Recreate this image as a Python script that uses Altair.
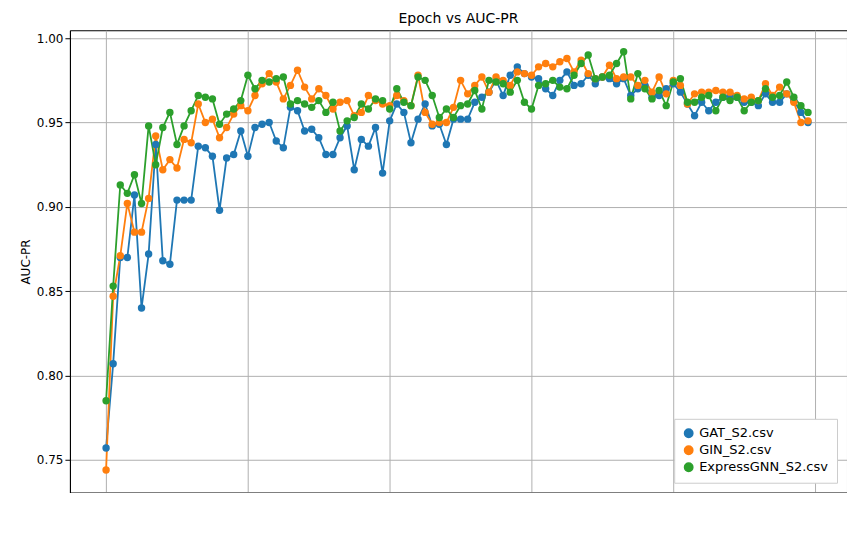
import altair as alt
import pandas as pd

epochs = list(range(100))

gat = [0.757, 0.807, 0.870, 0.870, 0.907, 0.840, 0.872, 0.937, 0.868, 0.866,
       0.904, 0.904, 0.904, 0.936, 0.935, 0.930, 0.898, 0.929, 0.931, 0.945,
       0.930, 0.947, 0.949, 0.950, 0.939, 0.935, 0.959, 0.957, 0.945, 0.946,
       0.941, 0.931, 0.931, 0.941, 0.948, 0.922, 0.940, 0.936, 0.947, 0.920,
       0.951, 0.961, 0.956, 0.938, 0.952, 0.961, 0.948, 0.949, 0.937, 0.952,
       0.952, 0.952, 0.962, 0.965, 0.968, 0.975, 0.966, 0.978, 0.983, 0.979,
       0.977, 0.976, 0.970, 0.966, 0.975, 0.980, 0.972, 0.973, 0.978, 0.973,
       0.977, 0.976, 0.973, 0.976, 0.966, 0.970, 0.972, 0.965, 0.966, 0.970,
       0.973, 0.968, 0.961, 0.954, 0.962, 0.957, 0.962, 0.965, 0.966, 0.965,
       0.962, 0.962, 0.960, 0.967, 0.962, 0.962, 0.967, 0.963, 0.956, 0.950]

gin = [0.744, 0.847, 0.871, 0.902, 0.885, 0.885, 0.905, 0.942, 0.922, 0.928,
       0.923, 0.940, 0.938, 0.961, 0.950, 0.952, 0.941, 0.947, 0.955, 0.960,
       0.957, 0.966, 0.973, 0.979, 0.974, 0.964, 0.972, 0.981, 0.971, 0.964,
       0.970, 0.966, 0.958, 0.962, 0.963, 0.954, 0.956, 0.966, 0.963, 0.961,
       0.960, 0.966, 0.963, 0.960, 0.978, 0.956, 0.949, 0.950, 0.950, 0.959,
       0.975, 0.967, 0.972, 0.977, 0.968, 0.977, 0.975, 0.972, 0.980, 0.979,
       0.978, 0.983, 0.985, 0.983, 0.986, 0.988, 0.980, 0.987, 0.979, 0.976,
       0.977, 0.984, 0.976, 0.977, 0.977, 0.972, 0.975, 0.968, 0.977, 0.967,
       0.975, 0.972, 0.961, 0.967, 0.968, 0.968, 0.969, 0.968, 0.968, 0.966,
       0.964, 0.965, 0.963, 0.973, 0.966, 0.971, 0.967, 0.962, 0.950, 0.951]

express = [0.785, 0.853, 0.913, 0.908, 0.919, 0.902, 0.948, 0.925, 0.947, 0.956,
           0.937, 0.948, 0.957, 0.966, 0.965, 0.964, 0.949, 0.955, 0.958, 0.963,
           0.978, 0.970, 0.975, 0.974, 0.976, 0.977, 0.961, 0.963, 0.961, 0.959,
           0.963, 0.956, 0.962, 0.945, 0.951, 0.953, 0.961, 0.958, 0.964, 0.963,
           0.958, 0.970, 0.962, 0.960, 0.977, 0.975, 0.966, 0.953, 0.958, 0.953,
           0.960, 0.961, 0.969, 0.958, 0.975, 0.974, 0.973, 0.968, 0.975, 0.962,
           0.958, 0.972, 0.973, 0.975, 0.971, 0.970, 0.978, 0.985, 0.990, 0.976,
           0.977, 0.978, 0.985, 0.992, 0.964, 0.979, 0.970, 0.964, 0.969, 0.960,
           0.974, 0.976, 0.962, 0.962, 0.965, 0.966, 0.957, 0.965, 0.963, 0.965,
           0.957, 0.962, 0.963, 0.970, 0.965, 0.966, 0.974, 0.965, 0.960, 0.956]

names = ['GAT_S2.csv', 'GIN_S2.csv', 'ExpressGNN_S2.csv']
colors = ['#1f77b4', '#ff7f0e', '#2ca02c']

df = pd.concat([
    pd.DataFrame({'Epoch': epochs, 'AUC-PR': vals, 'File': name, 'ord': i})
    for i, (name, vals) in enumerate(zip(names, [gat, gin, express]))
])

color = alt.Color('File:N', sort=names,
                  scale=alt.Scale(domain=names, range=colors),
                  legend=alt.Legend(title=None, orient='bottom-right', symbolType='circle',
                                    fillColor='white', strokeColor='#cccccc', padding=8,
                                    labelFontSize=13, symbolSize=70, offset=10))

base = alt.Chart(df).encode(
    x=alt.X('Epoch:Q', scale=alt.Scale(domain=[-5.1, 104.5], nice=False, zero=False),
            axis=alt.Axis(values=[0, 20, 40, 60, 80, 100], title='Epoch')),
    y=alt.Y('AUC-PR:Q', scale=alt.Scale(domain=[0.7305, 1.0047], nice=False, zero=False),
            axis=alt.Axis(values=[0.75, 0.80, 0.85, 0.90, 0.95, 1.00], format='.2f',
                          title='AUC-PR')),
    color=color,
    order='ord:Q',
)

lines = base.mark_line(strokeWidth=1.8)
points = base.mark_circle(size=55, opacity=1)

chart = (lines + points).properties(
    width=778, height=463,
    autosize=alt.AutoSizeParams(type='none'),
    padding={'left': 62, 'top': 22, 'right': 0, 'bottom': 0},
    title=alt.TitleParams('Epoch vs AUC-PR', fontSize=14, fontWeight='normal', font='DejaVu Sans'),
).configure_axis(
    grid=True, gridColor='#b0b0b0', gridWidth=1, domainColor='black', tickColor='black',
    labelFont='DejaVu Sans', titleFont='DejaVu Sans', labelFontSize=12, titleFontSize=12,
    titleFontWeight='normal', labelColor='black', titleColor='black',
).configure_legend(labelFont='DejaVu Sans').configure_view(stroke='black')

chart.save("out.html", embed_options={"renderer": "svg", "actions": False})
